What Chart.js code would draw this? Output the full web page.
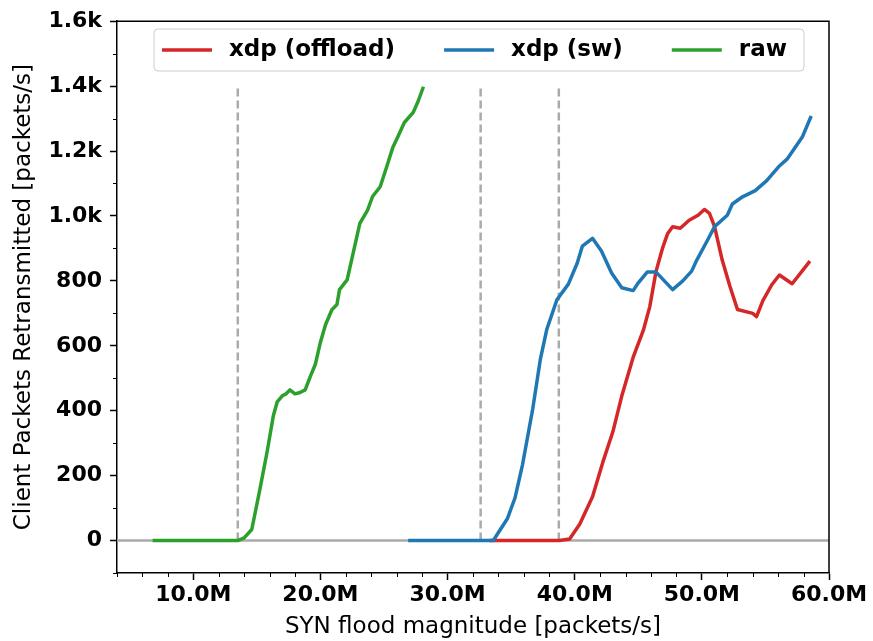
<!DOCTYPE html>
<html>
<head>
<meta charset="utf-8">
<script src="https://cdn.jsdelivr.net/npm/chart.js@4.4.1/dist/chart.umd.min.js"></script>
<style>
  html, body { margin: 0; padding: 0; background: #fff; }
  #wrap { width: 873px; height: 641px; }
</style>
</head>
<body>
<div id="wrap"><canvas id="chart"></canvas></div>
<script>
// x values: SYN flood magnitude in millions of packets/s
const offloadX = [33.3, 36, 38.8, 39.6, 40.4, 41.4, 42.2, 43.0, 43.7, 44.6, 45.4, 45.9, 46.4, 46.9, 47.3, 47.7, 48.3, 49.0, 49.7, 50.2, 50.6, 51.0, 51.6, 52.2, 52.8, 54.0, 54.3, 54.8, 55.5, 56.1, 57.1, 58.5];
const offloadY = [0, 0, 0, 5, 51, 135, 240, 335, 445, 565, 648, 720, 830, 900, 945, 967, 962, 987, 1002, 1020, 1008, 967, 864, 784, 712, 700, 690, 739, 788, 818, 791, 861];

const swX = [26.9, 30, 33.6, 34.1, 34.7, 35.3, 35.9, 36.7, 37.3, 37.8, 38.6, 39.5, 40.2, 40.6, 41.4, 42.1, 42.9, 43.7, 44.6, 45.0, 45.7, 46.4, 47.7, 48.5, 49.2, 49.6, 50.4, 51.0, 52.0, 52.4, 53.2, 54.2, 55.1, 56.1, 56.7, 57.9, 58.6];
const swY = [0, 0, 0, 31, 67, 131, 235, 406, 559, 650, 742, 790, 855, 907, 931, 892, 824, 779, 770, 794, 827, 827, 773, 800, 830, 864, 922, 967, 1002, 1037, 1059, 1078, 1109, 1154, 1175, 1243, 1308];

const rawX = [6.8, 10, 13.5, 14.0, 14.6, 15.2, 15.8, 16.3, 16.6, 17.0, 17.3, 17.6, 18.0, 18.4, 18.8, 19.2, 19.6, 20.0, 20.4, 20.9, 21.3, 21.5, 22.1, 22.6, 23.1, 23.7, 24.1, 24.7, 25.2, 25.7, 26.1, 26.6, 27.3, 27.7, 28.1];
const rawY = [0, 0, 0, 8, 34, 150, 272, 385, 427, 446, 452, 464, 452, 456, 464, 505, 543, 611, 665, 711, 727, 773, 803, 890, 977, 1017, 1060, 1090, 1150, 1212, 1245, 1288, 1319, 1355, 1398];

const thresholds = [13.5, 32.6, 38.75];
const thresholdTop = 1400;

const seriesLabels = ['xdp (offload)', 'xdp (sw)', 'raw'];
const seriesColors = ['#d62728', '#1f77b4', '#2ca02c'];

const toXY = (xs, ys) => xs.map((x, i) => ({ x, y: ys[i] }));

Chart.defaults.font.family = "'DejaVu Sans', sans-serif";
Chart.defaults.color = '#000';

const curves = [[offloadX, offloadY], [swX, swY], [rawX, rawY]].map(([xs, ys], i) => ({
  label: seriesLabels[i],
  data: toXY(xs, ys),
  borderColor: seriesColors[i],
  borderWidth: 3.5,
  borderJoinStyle: 'round',
  order: 3 - i,
}));

const refLines = [
  { data: [{ x: 4, y: 0 }, { x: 60, y: 0 }], borderColor: '#aaaaaa', borderWidth: 2.5, order: 6 },
  ...thresholds.map(t => ({
    data: [{ x: t, y: 0 }, { x: t, y: thresholdTop }],
    borderColor: '#aaaaaa', borderWidth: 2.5, borderDash: [8, 4], order: 5,
  })),
];

const isMajorX = v => Math.abs(v % 10) < 1e-6;
const isMajorY = v => Math.abs(v % 200) < 1e-6;

const decor = {
  id: 'decor',
  afterDraw(chart) {
    const { ctx, chartArea: a, scales: { x, y } } = chart;
    ctx.save();
    ctx.strokeStyle = '#000';
    ctx.lineWidth = 1;
    ctx.beginPath();
    x.ticks.forEach(t => {
      if (isMajorX(t.value)) return;
      const px = Math.round(x.getPixelForValue(t.value)) + 0.5;
      ctx.moveTo(px, a.bottom); ctx.lineTo(px, a.bottom + 4);
    });
    y.ticks.forEach(t => {
      if (isMajorY(t.value) && t.value >= 0) return;
      const py = Math.round(y.getPixelForValue(t.value)) + 0.5;
      ctx.moveTo(a.left, py); ctx.lineTo(a.left - 4, py);
    });
    ctx.stroke();

    // top and right frame
    ctx.lineWidth = 1.5;
    ctx.beginPath();
    ctx.moveTo(a.left, a.top);
    ctx.lineTo(a.right, a.top);
    ctx.lineTo(a.right, a.bottom);
    ctx.stroke();

    // legend
    const bx = 154, by = 29, bw = 650, bh = 42, r = 4;
    ctx.beginPath();
    ctx.roundRect(bx, by, bw, bh, r);
    ctx.fillStyle = 'rgba(255,255,255,0.8)';
    ctx.fill();
    ctx.strokeStyle = '#cccccc';
    ctx.lineWidth = 1;
    ctx.stroke();

    ctx.font = "bold 23px 'DejaVu Sans'";
    ctx.textBaseline = 'middle';
    ctx.textAlign = 'left';
    let lx = 162;
    const ly = 50;
    chart.data.datasets.slice(0, 3).forEach(ds => {
      ctx.strokeStyle = ds.borderColor;
      ctx.lineWidth = 3.5;
      ctx.beginPath();
      ctx.moveTo(lx, ly); ctx.lineTo(lx + 50, ly);
      ctx.stroke();
      ctx.fillStyle = '#000';
      ctx.fillText(ds.label, lx + 67, ly);
      lx += 67 + ctx.measureText(ds.label).width + 49;
    });
    ctx.restore();
  }
};

new Chart(document.getElementById('chart'), {
  type: 'line',
  data: { datasets: [...curves, ...refLines] },
  plugins: [decor],
  options: {
    animation: false,
    responsive: true,
    maintainAspectRatio: false,
    layout: { padding: { top: 16, right: 44, left: 0, bottom: 0 } },
    plugins: { legend: { display: false }, tooltip: { enabled: false } },
    elements: { point: { radius: 0 }, line: { tension: 0 } },
    scales: {
      x: {
        type: 'linear', min: 4, max: 60,
        ticks: {
          stepSize: 2, autoSkip: false, maxRotation: 0, padding: 2,
          font: { size: 22, weight: 'bold' },
          callback: v => isMajorX(v) ? v.toFixed(1) + 'M' : ''
        },
        grid: {
          drawOnChartArea: false, tickLength: 7, tickWidth: 1.5,
          tickColor: c => (c.tick && isMajorX(c.tick.value)) ? '#000' : 'rgba(0,0,0,0)'
        },
        border: { color: '#000', width: 1.5 },
        title: { display: true, text: 'SYN flood magnitude [packets/s]', font: { size: 23 }, padding: { top: 0, bottom: 0 } },
        afterFit: s => { s.height = 68; }
      },
      y: {
        type: 'linear', min: -100, max: 1600,
        ticks: {
          stepSize: 100, autoSkip: false, padding: 8,
          font: { size: 22, weight: 'bold' },
          callback: v => (isMajorY(v) && v >= 0) ? (v >= 1000 ? (v / 1000).toFixed(1) + 'k' : String(v)) : ''
        },
        grid: {
          drawOnChartArea: false, tickLength: 7, tickWidth: 1.5,
          tickColor: c => (c.tick && isMajorY(c.tick.value) && c.tick.value >= 0) ? '#000' : 'rgba(0,0,0,0)'
        },
        border: { color: '#000', width: 1.5 },
        title: { display: true, text: 'Client Packets Retransmitted [packets/s]', font: { size: 23 }, padding: { top: 10, bottom: 0 } },
        afterFit: s => { s.width = 117; }
      }
    }
  }
});
</script>
</body>
</html>
